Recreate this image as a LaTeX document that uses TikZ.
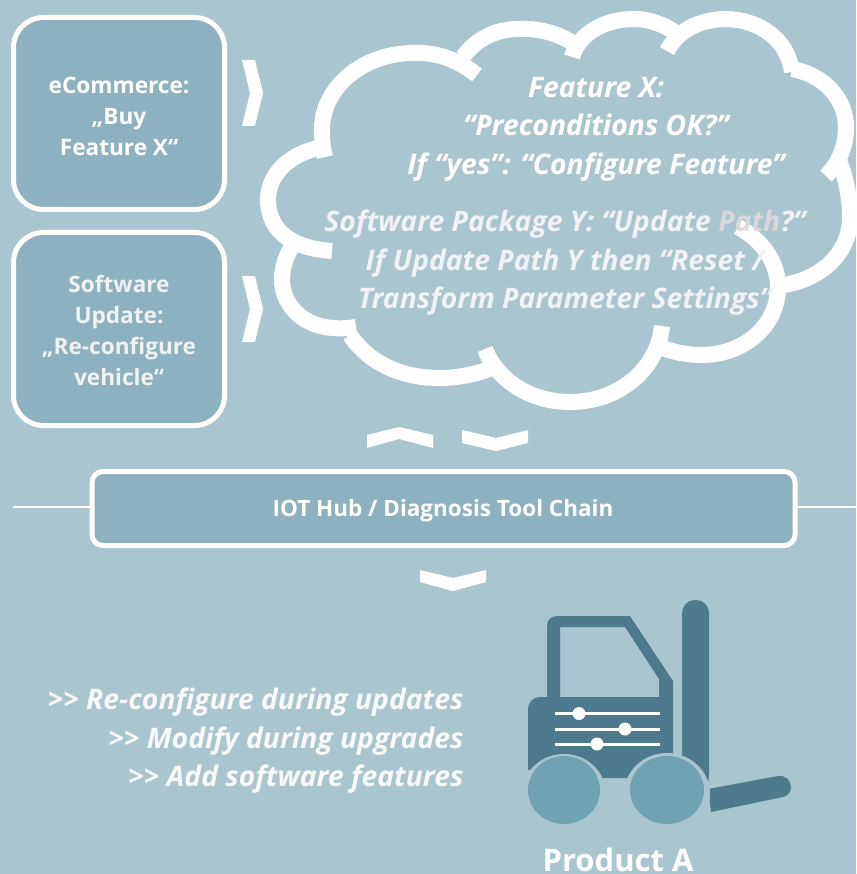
\documentclass[tikz,border=0pt]{standalone}
\usepackage{fontspec}
\setmainfont{Open Sans}
\definecolor{bgblue}{HTML}{A9C6D0}
\definecolor{boxblue}{HTML}{8DB1C0}
\definecolor{truckblue}{HTML}{4D7A8C}
\definecolor{wheelblue}{HTML}{6FA3B3}
\definecolor{softwhite}{HTML}{F0F2F3}
\definecolor{pathgrey}{HTML}{D9D9D9}
\tikzset{
   roundbox/.style = {draw = white, fill = boxblue, line width = 5pt, rounded corners = 30pt, minimum width = 211pt},
   boxtext/.style = {align = center, text = white, font = \fontsize{22.6}{31}\selectfont\bfseries},
   cloudarc/.style = {draw = white, line width = 16pt},
   chevron/.style = {fill = white},
   slider/.style = {draw = white, line width = 3pt},
   knob/.style = {circle, fill = white, minimum size = 13pt, inner sep = 0pt},
   cloudtext/.style = {align = center, text = white, font = \fontsize{28.3}{38.5}\selectfont\bfseries\itshape}
}
\begin{document}
\begin{tikzpicture}[x = 1pt, y = -1pt]
   \useasboundingbox (0,0) rectangle (856,874);
   \clip (0,0) rectangle (856,874);
   \fill[bgblue] (0,0) rectangle (856,874);
   % left boxes
   \node[roundbox, minimum height = 192pt] (buy) at (119,113.5) {};
   \node[boxtext] (buytext) at (119,116) {eCommerce:\\„Buy\\Feature X“};
   \node[roundbox, minimum height = 193pt] (update) at (119,329) {};
   \node[boxtext, text = softwhite] (updatetext) at (119,330.5) {Software\\Update:\\„Re-configure\\vehicle“};
   \fill[chevron] (242,60) -- (255,60) -- (263,93) -- (255,126) -- (242,126) -- (250,93) -- cycle;
   \fill[chevron] (242,276) -- (255,276) -- (263,309) -- (255,342) -- (242,342) -- (250,309) -- cycle;
   % cloud
   \draw[cloudarc] (477,75) .. controls (455,58) and (435,52) .. (412,53) .. controls (360,54) and (320,90) .. (322,133) .. controls (322,142) and (323,150) .. (325,157);
   \draw[cloudarc] (318,148) .. controls (288,155) and (268,175) .. (268,200) .. controls (268,225) and (285,248) .. (332,251);
   \draw[cloudarc] (293,245) .. controls (286,255) and (282,268) .. (282,280) .. controls (282,305) and (305,335) .. (356,327);
   \draw[cloudarc] (350,335) .. controls (368,362) and (400,378) .. (439,378) .. controls (458,378) and (478,374) .. (494,367);
   \draw[cloudarc] (485,349) .. controls (497,380) and (530,402) .. (570,402) .. controls (620,402) and (658,368) .. (662,326);
   \draw[cloudarc] (660,347) .. controls (672,352) and (688,355) .. (701,355) .. controls (745,355) and (778,325) .. (778,287) .. controls (778,262) and (762,240) .. (738,227);
   \draw[cloudarc] (784,285) .. controls (825,278) and (850,250) .. (850,218) .. controls (850,200) and (847,180) .. (838,158);
   \draw[cloudarc] (826,176) .. controls (840,162) and (846,145) .. (846,127) .. controls (846,100) and (825,75) .. (792,69);
   \draw[cloudarc] (792,72) .. controls (788,40) and (760,20) .. (727,19) .. controls (700,19) and (678,30) .. (667,51);
   \draw[cloudarc] (676,33) .. controls (665,25) and (650,19) .. (634,19) .. controls (603,19) and (578,35) .. (572,57);
   \draw[cloudarc] (576,45) .. controls (560,34) and (540,28) .. (518,29) .. controls (495,29) and (475,40) .. (463,57);
   \node[cloudtext] (feature) at (596,129) {Feature X:\\“Preconditions OK?”\\If “yes”: “Configure Feature”};
   \node[cloudtext, text = softwhite] (package) at (565,263) {Software Package Y: “Update \textcolor{pathgrey}{Path}?”\\If Update Path Y then “Reset /\\Transform Parameter Settings”};
   % hub
   \fill[chevron] (367,435) -- (399,427) -- (433,435) -- (433,448) -- (399,439) -- (367,448) -- cycle;
   \fill[chevron] (462,430) -- (496,438) -- (528,430) -- (528,443) -- (496,451) -- (462,443) -- cycle;
   \node[roundbox, rounded corners = 11pt, minimum width = 703pt, minimum height = 74pt] (hub) at (443.5,508.5) {};
   \node[boxtext, font = \fontsize{22.5}{25}\selectfont\bfseries] (hubtext) at (443,510.5) {IOT Hub / Diagnosis Tool Chain};
   \coordinate (hubleft) at (13,506.5);
   \coordinate (hubright) at (856,506.5);
   \draw[white, line width = 2pt] (hubleft) -- (hub.west |- hubleft);
   \draw[white, line width = 2pt] (hub.east |- hubright) -- (hubright);
   \fill[chevron] (420,570) -- (453,578) -- (486,570) -- (486,582) -- (453,591) -- (420,582) -- cycle;
   % list
   \node[cloudtext, align = right, anchor = east, text = softwhite!50!white] (list) at (467,741) {{>}{>} Re-configure during updates\\{>}{>} Modify during upgrades\\{>}{>} Add software features};
   % truck
   \fill[truckblue, rounded corners = 13pt] (682,790) -- (682,600) -- (709,600) -- (709,790) -- cycle;
   \fill[truckblue] (708,789) -- (778,776) .. controls (786,775) and (791,781) .. (791,787) .. controls (791,792) and (788,796) .. (783,797) -- (711,812) -- cycle;
   \fill[truckblue, even odd rule] (547,697) -- (547,626) .. controls (547,620) and (551,616) .. (557,616) -- (630,616) -- (673,681) -- (673,770) -- (627,778) -- (603,778) -- (528,770) -- (528,710) .. controls (528,702) and (533,697) .. (540,697) -- cycle
      (560,627) -- (625,627) -- (659,679) -- (659,697) -- (560,697) -- cycle;
   \fill[bgblue] (564,794) ellipse (42pt and 40pt);
   \fill[bgblue] (667,794) ellipse (43pt and 41pt);
   \fill[wheelblue] (564,790) ellipse (36pt and 34pt);
   \fill[wheelblue] (667,790) ellipse (37pt and 34pt);
   \foreach \ypos/\xpos/\knobname in {713.5/579/knoba, 729/625/knobb, 744/597/knobc} {
      \draw[slider] (555,\ypos) -- (660,\ypos);
      \node[knob] (\knobname) at (\xpos,\ypos) {};
   }
   \node[text = white, anchor = base, inner sep = 0pt, font = \fontsize{31}{36}\selectfont\bfseries] (product) at (618,871) {Product A};
\end{tikzpicture}
\end{document}
